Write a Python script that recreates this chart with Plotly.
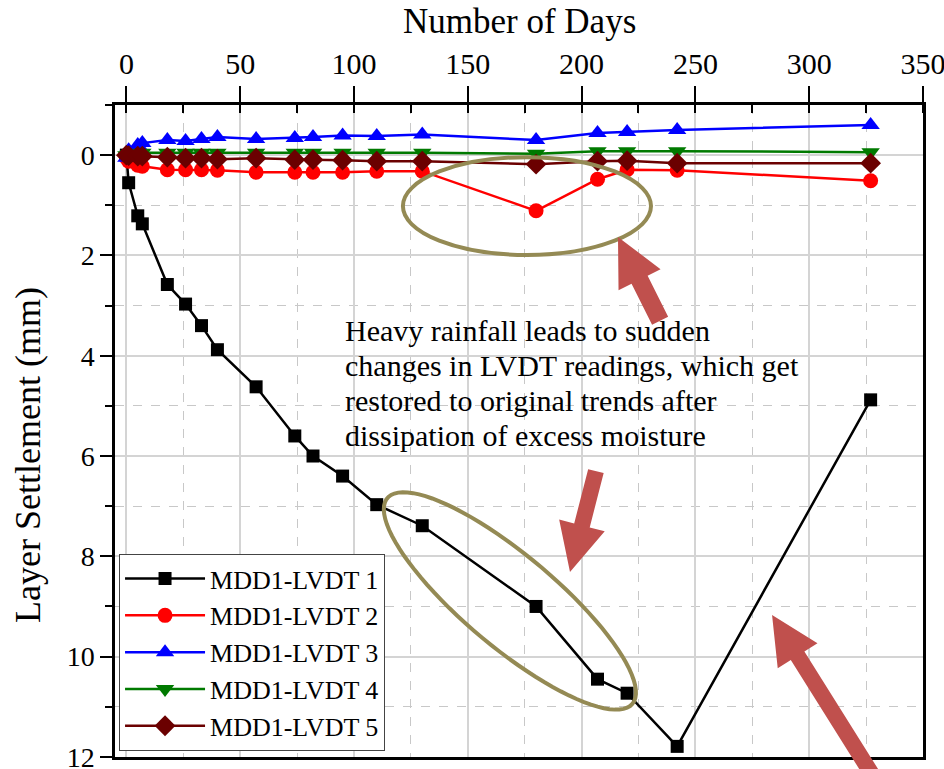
import numpy as np
import plotly.graph_objects as go

# ---- data: layer settlement (mm) per LVDT vs. number of days ----
days = [0, 1, 5, 7, 18, 26, 33, 40, 57, 74, 82, 95, 110, 130, 180, 207, 220, 242, 327]

lvdt1 = [0.0, 0.55, 1.21, 1.37, 2.58, 2.97, 3.40, 3.88, 4.62, 5.60, 6.00, 6.40,
         6.97, 7.39, 9.00, 10.45, 10.73, 11.79, 4.88]
lvdt2 = [0.05, 0.12, 0.20, 0.22, 0.29, 0.29, 0.29, 0.30, 0.34, 0.34, 0.34, 0.34,
         0.32, 0.32, 1.11, 0.48, 0.29, 0.30, 0.51]
lvdt3 = [0.05, -0.10, -0.20, -0.24, -0.30, -0.28, -0.32, -0.36, -0.32, -0.34, -0.36, -0.39,
         -0.38, -0.41, -0.30, -0.44, -0.46, -0.50, -0.60]
lvdt4 = [0.0, -0.02, -0.04, -0.05, -0.05, -0.05, -0.05, -0.05, -0.05, -0.05, -0.05, -0.05,
         -0.05, -0.05, -0.03, -0.08, -0.08, -0.08, -0.06]
lvdt5 = [0.0, 0.01, 0.02, 0.02, 0.04, 0.06, 0.06, 0.08, 0.06, 0.09, 0.09, 0.10,
         0.12, 0.12, 0.18, 0.12, 0.11, 0.16, 0.16]

series_names = ["MDD1-LVDT 1", "MDD1-LVDT 2", "MDD1-LVDT 3", "MDD1-LVDT 4", "MDD1-LVDT 5"]
series_values = [lvdt1, lvdt2, lvdt3, lvdt4, lvdt5]

x_ticks = [0, 50, 100, 150, 200, 250, 300, 350]
y_ticks = [0, 2, 4, 6, 8, 10, 12]

note_lines = ["Heavy rainfall leads to sudden",
              "changes in LVDT readings, which get",
              "restored to original trends after",
              "dissipation of excess moisture"]

# ---- styling ----
colors = ["#000000", "#FF0000", "#0000FF", "#007A00", "#6B0000"]
symbols = ["square", "circle", "triangle-up", "triangle-down", "diamond"]
sizes = [13, 15, 16, 16, 16]
SERIF = "Liberation Serif"
ARROW = "#C0504D"
RING = "#948A54"

W, H = 944, 769
L, R, T, B = 115, 21, 105, 12
PW, PH = W - L - R, H - T - B
X0, X1 = -5, 350          # x range
YT, YB = -1, 12           # y range (top, bottom) -- reversed axis
sx = PW / (X1 - X0)       # px per day
sy = PH / (YB - YT)       # px per mm


def to_px(x, y):
    return L + (x - X0) * sx, T + (y - YT) * sy


def px_to_paper(px, py):
    return (px - L) / PW, 1 - (py - T) / PH


def ellipse_path(cx, cy, a, b, ang, n=90):
    """Ellipse centred at data point (cx, cy), semi-axes a, b in px, rotated ang deg on screen."""
    t = np.linspace(0, 2 * np.pi, n)
    th = np.radians(ang)
    dx = a * np.cos(t) * np.cos(th) - b * np.sin(t) * np.sin(th)
    dy = a * np.cos(t) * np.sin(th) + b * np.sin(t) * np.cos(th)
    xs = cx + dx / sx
    ys = cy + dy / sy
    pts = [f"{x:.3f},{y:.4f}" for x, y in zip(xs, ys)]
    return "M " + " L ".join(pts) + " Z"


def block_arrow(tail, tip, shaft_w, head_len, head_w):
    """Filled block arrow from tail to tip (data coords), returned as a paper-space path."""
    tx, ty = to_px(*tail)
    hx, hy = to_px(*tip)
    d = np.array([hx - tx, hy - ty])
    u = d / np.linalg.norm(d)
    p = np.array([-u[1], u[0]])
    tailp = np.array([tx, ty])
    tipp = np.array([hx, hy])
    base = tipp - u * head_len
    poly = [tailp + p * shaft_w / 2, base + p * shaft_w / 2, base + p * head_w / 2, tipp,
            base - p * head_w / 2, base - p * shaft_w / 2, tailp - p * shaft_w / 2]
    pts = [px_to_paper(*q) for q in poly]
    return "M " + " L ".join(f"{a:.4f},{b:.4f}" for a, b in pts) + " Z"


fig = go.Figure()
for name, vals, c, sym, sz in zip(series_names, series_values, colors, symbols, sizes):
    fig.add_trace(go.Scatter(
        x=days, y=vals, name=name, mode="lines+markers",
        line=dict(color=c, width=2.5),
        marker=dict(symbol=sym, size=sz, color=c, line=dict(width=0)),
    ))

shapes = [
    # ring around the LVDT 2 excursion
    dict(type="circle", xref="x", yref="y", x0=121.5, x1=230.5, y0=0.04, y1=1.99,
         line=dict(color=RING, width=4)),
    # tilted ring around the LVDT 1 segment
    dict(type="path", xref="x", yref="y", path=ellipse_path(168.5, 8.89, 160, 46, 40),
         line=dict(color=RING, width=4)),
]
for tail, tip, sw in [((234.5, 3.30), (216.0, 1.63), 18),
                      ((206.3, 6.30), (194.9, 8.31), 16),
                      ((331.1, 12.6), (283.7, 9.17), 16)]:
    shapes.append(dict(type="path", xref="paper", yref="paper",
                       path=block_arrow(tail, tip, sw, 48, 47),
                       fillcolor=ARROW, line=dict(width=0), layer="above"))

axis_common = dict(
    showline=True, linecolor="black", linewidth=2.5, mirror=True,
    showgrid=True, gridcolor="#d4d4d4", gridwidth=1.5, zeroline=False,
    tickcolor="black", tickwidth=2, ticklabeloverflow="allow", automargin=False,
)

# annotation text, one line per entry with fixed 35 px spacing
note_x = X0 + (343 - L) / sx
note_ann = []
for i, line in enumerate(note_lines):
    yc = YT + (331 + 35 * i - T) / sy
    note_ann.append(dict(text=line, xref="x", yref="y", x=note_x, y=yc, showarrow=False,
                         xanchor="left", yanchor="middle", align="left",
                         font=dict(family=SERIF, size=30, color="black")))

fig.update_layout(
    width=W, height=H,
    margin=dict(l=L, r=R, t=T, b=B, pad=0, autoexpand=False),
    paper_bgcolor="white", plot_bgcolor="white",
    showlegend=True,
    legend=dict(
        x=0.005, y=0.009, xanchor="left", yanchor="bottom",
        bgcolor="white", bordercolor="#444444", borderwidth=1,
        font=dict(family=SERIF, size=26, color="black"),
        tracegroupgap=0, itemwidth=80,
    ),
    xaxis=dict(
        side="top", range=[X0, X1 + 0.01], tickvals=x_ticks, ticks="outside", ticklen=16,
        tickfont=dict(family=SERIF, size=30, color="black"),
        minor=dict(dtick=25, tick0=0, ticks="inside", ticklen=8, tickcolor="black",
                   showgrid=True, gridcolor="#c8c8c8", griddash="dash", gridwidth=1),
        **axis_common,
    ),
    yaxis=dict(
        range=[YB + 0.002, YT], tickvals=y_ticks, ticks="outside", ticklen=12,
        tickfont=dict(family=SERIF, size=28, color="black"),
        minor=dict(dtick=1, tick0=0, ticks="outside", ticklen=7, tickcolor="black",
                   showgrid=True, gridcolor="#c8c8c8", griddash="dash", gridwidth=1),
        **axis_common,
    ),
    shapes=shapes,
    annotations=[
        dict(text="Number of Days", xref="paper", yref="paper", x=0.5, y=px_to_paper(0, 22)[1],
             showarrow=False, xanchor="center", yanchor="middle",
             font=dict(family=SERIF, size=35, color="black")),
        dict(text="Layer Settlement (mm)", xref="paper", yref="paper",
             x=px_to_paper(28, 0)[0], y=px_to_paper(0, 455)[1], textangle=-90,
             showarrow=False, xanchor="center", yanchor="middle",
             font=dict(family=SERIF, size=36, color="black")),
    ] + note_ann,
)

fig.write_html("out.html")
